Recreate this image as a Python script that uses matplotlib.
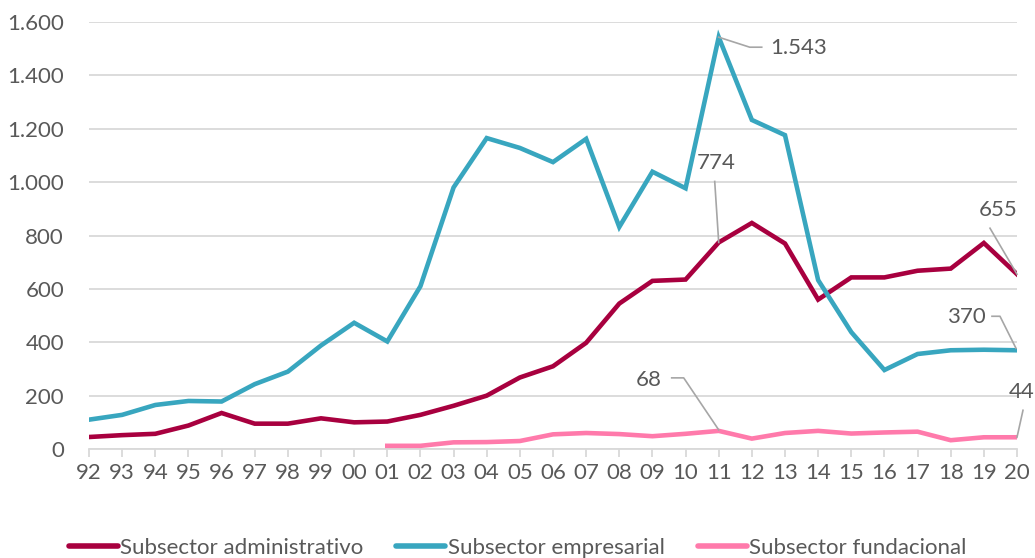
import numpy as np
import matplotlib.pyplot as plt

plt.rcParams['font.family'] = ['Lato', 'DejaVu Sans']

# Años (etiquetas del eje x)
years = ['92', '93', '94', '95', '96', '97', '98', '99', '00', '01', '02', '03', '04', '05',
         '06', '07', '08', '09', '10', '11', '12', '13', '14', '15', '16', '17', '18', '19', '20']

administrativo = [45, 52, 57, 88, 135, 95, 95, 115, 100, 103, 128, 162, 200, 268,
                  310, 398, 545, 630, 635, 774, 847, 770, 560, 643, 643, 668, 676, 772, 655]
empresarial = [110, 128, 165, 180, 178, 243, 290, 388, 473, 403, 610, 980, 1165, 1128,
               1075, 1162, 832, 1039, 977, 1543, 1233, 1176, 633, 438, 296, 356, 370, 372, 370]
# fundacional empieza en 2001
fundacional = [np.nan] * 9 + [12, 12, 25, 26, 30, 55, 60, 56, 48, 57, 68, 39, 60, 68,
                              58, 62, 65, 33, 44, 44]

yticks = [0, 200, 400, 600, 800, 1000, 1200, 1400, 1600]
ytick_labels = ['0', '200', '400', '600', '800', '1.000', '1.200', '1.400', '1.600']

c_adm = '#A8003F'
c_emp = '#38A6BF'
c_fun = '#FF7AAB'
gray = '#595959'
fs = 16

fig = plt.figure(figsize=(10.35, 5.58), dpi=100)
ax = fig.add_axes([0.086, 0.1953, 0.8966, 0.7653])

x = np.arange(len(years))
ax.plot(x, administrativo, color=c_adm, lw=3.3, solid_joinstyle='miter', label='Subsector administrativo', zorder=3)
ax.plot(x, empresarial, color=c_emp, lw=3.3, solid_joinstyle='miter', label='Subsector empresarial', zorder=3)
ax.plot(x, fundacional, color=c_fun, lw=3.3, solid_joinstyle='miter', label='Subsector fundacional', zorder=3)

ax.set_xlim(0, len(years) - 1)
ax.set_ylim(0, 1600)
ax.set_yticks(yticks)
ax.set_yticklabels(ytick_labels)
ax.set_xticks(x)
ax.set_xticklabels(years)
ax.grid(axis='y', color='#D9D9D9', lw=1.3, zorder=0)
ax.set_axisbelow(True)
for s in ['top', 'right', 'left']:
    ax.spines[s].set_visible(False)
ax.spines['bottom'].set_color('#D9D9D9')
ax.spines['bottom'].set_linewidth(1.3)
ax.tick_params(axis='y', length=0, pad=18, labelsize=fs, labelcolor=gray)
ax.tick_params(axis='x', length=6, width=1.3, color='#D9D9D9', pad=4, labelsize=fs, labelcolor=gray)

# Etiquetas con líneas guía (desplazamientos en píxeles respecto al punto, y hacia arriba)
lc = '#A6A6A6'
i11 = years.index('11')
i20 = len(years) - 1
ann = [
    (i11, empresarial[i11], '1.543', [(0, 0), (31, -10), (43, -10)], (51, -11), 'left'),
    (i11, administrativo[i11], '774', [(0, 0), (-4, 61)], (-3, 79), 'center'),
    (i20, administrativo[i20], '655', [(0, 0), (-27, 46)], (-19, 64), 'center'),
    (i20, empresarial[i20], '370', [(-1, 2), (-17, 34), (-25, 34)], (-51, 33), 'center'),
    (i11, fundacional[i11], '68', [(0, 1), (-35, 53), (-47, 53)], (-70, 51), 'center'),
    (i20, fundacional[i20], '44', [(0, 0), (6, 27)], (5, 45), 'center'),
]
for xi, yi, txt, path, (tx, ty), ha in ann:
    base = ax.transData.transform((xi, yi))
    pts = np.array([base + np.array([dx, dy]) for dx, dy in path])
    inv = fig.transFigure.inverted().transform(pts)
    fig.add_artist(plt.Line2D(inv[:, 0], inv[:, 1], color=lc, lw=1.2, zorder=5))
    ax.annotate(txt, xy=(xi, yi), xytext=(tx, ty), textcoords='offset pixels',
                ha=ha, va='center', fontsize=fs, color=gray, annotation_clip=False)

leg = fig.legend(loc='lower center', bbox_to_anchor=(0.5, -0.035), ncol=3, frameon=False,
                 fontsize=fs, handlelength=2.2, handletextpad=0.1, columnspacing=1.5)
for t in leg.get_texts():
    t.set_color(gray)
for h in leg.legend_handles:
    h.set_solid_capstyle('round')
    h.set_linewidth(4)

fig.savefig('out.png', dpi=100, facecolor='white')
